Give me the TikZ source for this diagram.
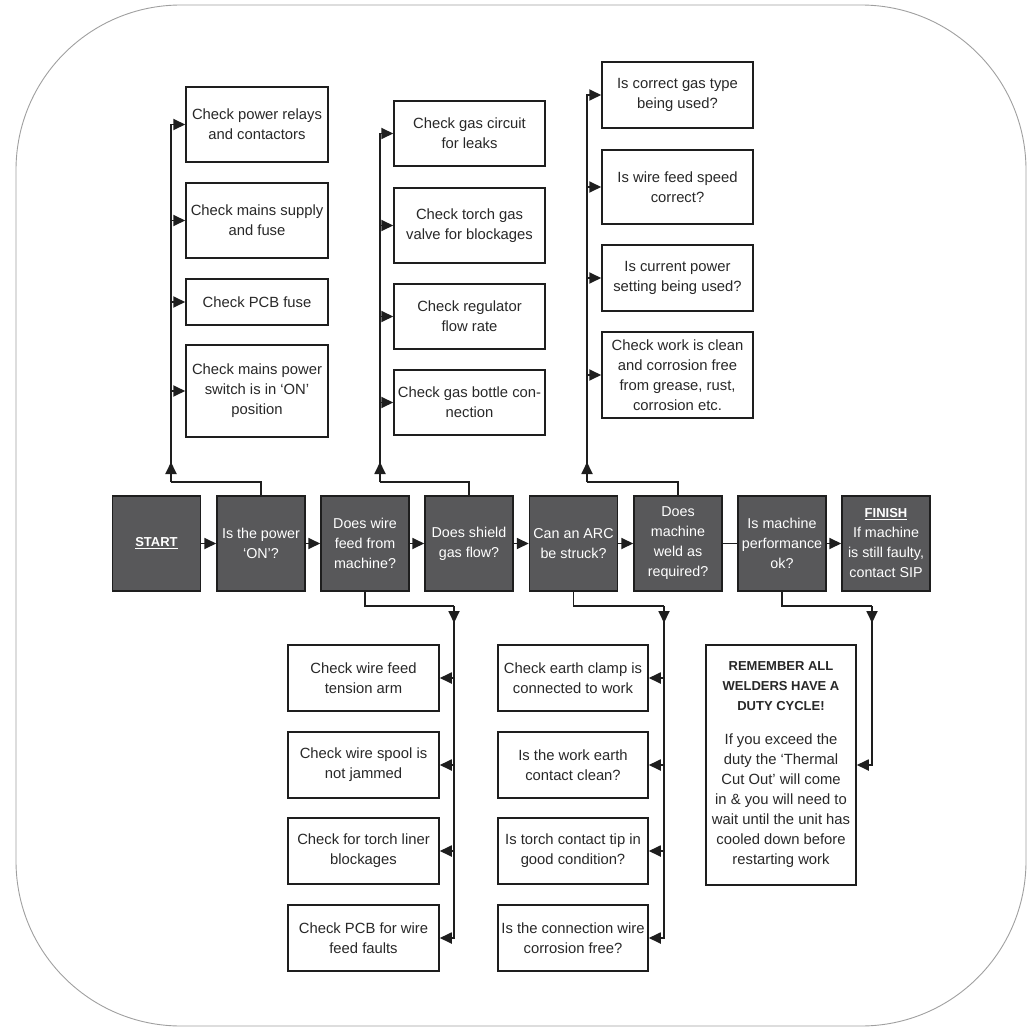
\documentclass[tikz,border=0pt]{standalone}
\usepackage{fontspec}
\setmainfont{Liberation Sans}
\usetikzlibrary{arrows.meta}
\definecolor{boxgray}{RGB}{88,88,90}
\definecolor{linecol}{RGB}{30,30,30}
\definecolor{txtcol}{RGB}{40,40,40}
\newcommand{\remb}[1]{{\fontsize{13}{20}\selectfont\bfseries #1}}
\begin{document}
\begin{tikzpicture}[x=1pt,y=-1pt,
  conn/.style={draw=linecol, line width=1.8pt},
  tip/.style={-{Triangle[length=12pt,width=11pt]}},
  mainbox/.style={draw=linecol, line width=1.5pt, fill=boxgray, text=white, minimum width=88pt, minimum height=95pt, align=center, inner sep=1pt, font=\fontsize{14.3}{20}\selectfont},
  chk/.style={draw=linecol, line width=1.5pt, fill=white, align=center, inner sep=1pt, text=txtcol, font=\fontsize{14.8}{20}\selectfont},
]
\useasboundingbox (0,0) rectangle (1033,1027);
\draw[gray!75, line width=0.9pt, rounded corners=165pt] (16,5) rectangle (1026,1026);

% main row
\node[mainbox] (start) at (156.5,543.5) {\remb{\underline{START}}};
\node[mainbox] (b2) at (261,543.5) {Is the power\\‘ON’?};
\node[mainbox] (b3) at (365,543.5) {Does wire\\feed from\\machine?};
\node[mainbox] (b4) at (469,543.5) {Does shield\\gas flow?};
\node[mainbox] (b5) at (573.5,543.5) {Can an ARC\\be struck?};
\node[mainbox] (b6) at (678,543.5) {Does\\machine\\weld as\\required?};
\node[mainbox] (b7) at (782,543.5) {Is machine\\performance\\ok?};
\node[mainbox] (b8) at (886,543.5) {\remb{\underline{FINISH}}\\If machine\\is still faulty,\\contact SIP};

% top-left column
\node[chk, minimum width=142pt, minimum height=75pt] (t1) at (257,124.5) {Check power relays\\and contactors};
\node[chk, minimum width=142pt, minimum height=75pt] (t2) at (257,220.5) {Check mains supply\\and fuse};
\node[chk, minimum width=142pt, minimum height=46pt] (t3) at (257,302) {Check PCB fuse};
\node[chk, minimum width=142pt, minimum height=92pt] (t4) at (257,391) {Check mains power\\switch is in ‘ON’\\position};

% top-middle column
\node[chk, minimum width=151pt, minimum height=65pt] (m1) at (469.5,133.5) {Check gas circuit\\for leaks};
\node[chk, minimum width=151pt, minimum height=75pt] (m2) at (469.5,225.5) {Check torch gas\\valve for blockages};
\node[chk, minimum width=151pt, minimum height=65pt] (m3) at (469.5,316.5) {Check regulator\\flow rate};
\node[chk, minimum width=151pt, minimum height=65pt] (m4) at (469.5,402.5) {Check gas bottle con-\\nection};

% top-right column
\node[chk, minimum width=151pt, minimum height=66pt] (r1) at (677.5,95) {Is correct gas type\\being used?};
\node[chk, minimum width=151pt, minimum height=74pt] (r2) at (677.5,187) {Is wire feed speed\\correct?};
\node[chk, minimum width=151pt, minimum height=66pt] (r3) at (677.5,278) {Is current power\\setting being used?};
\node[chk, minimum width=151pt, minimum height=86pt] (r4) at (677.5,375) {Check work is clean\\and corrosion free\\from grease, rust,\\corrosion etc.};

% bottom-left column
\node[chk, minimum width=151pt, minimum height=66pt] (l1) at (363.5,678) {Check wire feed\\tension arm};
\node[chk, minimum width=151pt, minimum height=66pt] (l2) at (363.5,765) {Check wire spool is\\not jammed};
\node[chk, minimum width=151pt, minimum height=66pt] (l3) at (363.5,851) {Check for torch liner\\blockages};
\node[chk, minimum width=151pt, minimum height=66pt] (l4) at (363.5,938) {Check PCB for wire\\feed faults};

% bottom-middle column
\node[chk, minimum width=150pt, minimum height=66pt] (n1) at (573,678) {Check earth clamp is\\connected to work};
\node[chk, minimum width=150pt, minimum height=66pt] (n2) at (573,765) {Is the work earth\\contact clean?};
\node[chk, minimum width=150pt, minimum height=66pt] (n3) at (573,851) {Is torch contact tip in\\good condition?};
\node[chk, minimum width=150pt, minimum height=66pt] (n4) at (573,938) {Is the connection wire\\corrosion free?};

% remember box
\node[chk, minimum width=150pt, minimum height=240pt] (rem) at (781,765) {\remb{REMEMBER ALL}\\\remb{WELDERS HAVE A}\\\remb{DUTY CYCLE!}\\[14pt]If you exceed the\\duty the ‘Thermal\\Cut Out’ will come\\in \& you will need to\\wait until the unit has\\cooled down before\\restarting work};

% branch coordinates
\coordinate (tlv) at (171,482);
\coordinate (tmv) at (380,482);
\coordinate (trv) at (587,482);
\coordinate (blv) at (454,606);
\coordinate (bmv) at (664,606);
\coordinate (brv) at (872,606);

% main row connectors
\draw[conn,tip] (start) -- (b2);
\draw[conn,tip] (b2) -- (b3);
\draw[conn,tip] (b3) -- (b4);
\draw[conn,tip] (b4) -- (b5);
\draw[conn,tip] (b5) -- (b6);
\draw[conn] (b6) -- (b7);
\draw[conn,tip] (b7) -- (b8);

% top-left branch
\draw[conn] (b2.north) |- (tlv);
\draw[conn,tip] (tlv) |- (t1.west);
\draw[conn,tip] (tlv) -- ++(0,-20);
\draw[conn,tip] (t2.west -| tlv) -- (t2.west);
\draw[conn,tip] (t3.west -| tlv) -- (t3.west);
\draw[conn,tip] (t4.west -| tlv) -- (t4.west);

% top-middle branch
\draw[conn] (b4.north) |- (tmv);
\draw[conn,tip] (tmv) |- (m1.west);
\draw[conn,tip] (tmv) -- ++(0,-20);
\draw[conn,tip] (m2.west -| tmv) -- (m2.west);
\draw[conn,tip] (m3.west -| tmv) -- (m3.west);
\draw[conn,tip] (m4.west -| tmv) -- (m4.west);

% top-right branch
\draw[conn] (b6.north) |- (trv);
\draw[conn,tip] (trv) |- (r1.west);
\draw[conn,tip] (trv) -- ++(0,-20);
\draw[conn,tip] (r2.west -| trv) -- (r2.west);
\draw[conn,tip] (r3.west -| trv) -- (r3.west);
\draw[conn,tip] (r4.west -| trv) -- (r4.west);

% bottom-left branch
\draw[conn] (b3.south) |- (blv);
\draw[conn,tip] (blv) |- (l4.east);
\draw[conn,tip] (blv) -- ++(0,17);
\draw[conn,tip] (l1.east -| blv) -- (l1.east);
\draw[conn,tip] (l2.east -| blv) -- (l2.east);
\draw[conn,tip] (l3.east -| blv) -- (l3.east);

% bottom-middle branch
\draw[conn] (b5.south) |- (bmv);
\draw[conn,tip] (bmv) |- (n4.east);
\draw[conn,tip] (bmv) -- ++(0,17);
\draw[conn,tip] (n1.east -| bmv) -- (n1.east);
\draw[conn,tip] (n2.east -| bmv) -- (n2.east);
\draw[conn,tip] (n3.east -| bmv) -- (n3.east);

% bottom-right branch
\draw[conn] (b7.south) |- (brv);
\draw[conn,tip] (brv) |- (rem.east);
\draw[conn,tip] (brv) -- ++(0,17);
\end{tikzpicture}
\end{document}
